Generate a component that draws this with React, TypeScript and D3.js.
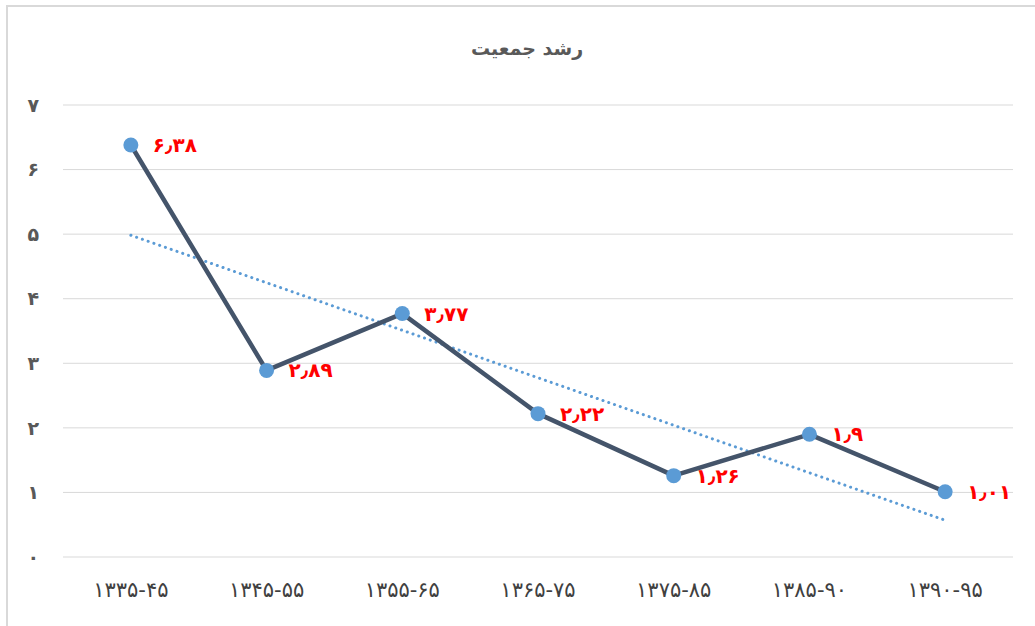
import React from 'react'
import * as d3 from 'd3'

const periods = ['۱۳۳۵-۴۵', '۱۳۴۵-۵۵', '۱۳۵۵-۶۵', '۱۳۶۵-۷۵', '۱۳۷۵-۸۵', '۱۳۸۵-۹۰', '۱۳۹۰-۹۵']
const growth = [6.38, 2.89, 3.77, 2.22, 1.26, 1.9, 1.01]
const yTicks = [0, 1, 2, 3, 4, 5, 6, 7]
const title = 'رشد جمعیت'

const W = 1035
const H = 626
const margin = { top: 105, right: 22, bottom: 69, left: 63 }
const font = '"DejaVu Sans", sans-serif'

const faDigits = '۰۱۲۳۴۵۶۷۸۹'
const toFa = (s: string) => s.replace(/[0-9]/g, d => faDigits[+d]).replace('.', '٫')

// linear trend line (least squares over the category index)
const trend = (() => {
    const n = growth.length
    const xs = growth.map((d, i) => i + 1)
    const mx = d3.mean(xs) as number
    const my = d3.mean(growth) as number
    const num = d3.sum(xs, (x, i) => (x - mx) * (growth[i] - my))
    const den = d3.sum(xs, x => (x - mx) ** 2)
    const slope = num / den
    return [0, n - 1].map(i => ({ i, v: my + slope * (i + 1 - mx) }))
})()

export default function App() {
    const x = d3.scaleBand<number>()
        .domain(growth.map((d, i) => i))
        .range([margin.left, W - margin.right])
    const y = d3.scaleLinear()
        .domain([0, 7])
        .range([H - margin.bottom, margin.top])
    const cx = (i: number) => (x(i) as number) + x.bandwidth() / 2

    const line = d3.line<number>()
        .x((d, i) => cx(i))
        .y(d => y(d))
    const trendLine = d3.line<{ i: number, v: number }>()
        .x(d => cx(d.i))
        .y(d => y(d.v))

    return (
        <div style={{ position: 'fixed', left: 0, top: 0 }}>
            <svg width={W} height={H} style={{ display: 'block', background: '#fff' }}>
                <rect x={7} y={6} width={W} height={H} fill="none" stroke="#d9d9d9" strokeWidth={2} />
                <text x={527} y={55} textAnchor="middle" fontFamily={font} fontSize={19}
                    fontWeight="bold" fill="#595959">{title}</text>

                {yTicks.map(t => (
                    <g key={t}>
                        <line x1={margin.left} x2={W - margin.right} y1={y(t)} y2={y(t)}
                            stroke="#d9d9d9" strokeWidth={1} />
                        <text x={39} y={y(t)} dy="0.35em" textAnchor="end" fontFamily={font}
                            fontSize={19} fontWeight="bold" fill="#595959">{toFa(String(t))}</text>
                    </g>
                ))}

                {periods.map((p, i) => (
                    <text key={p} x={cx(i)} y={597} textAnchor="middle" fontFamily={font}
                        fontSize={21} fill="#404040">{p}</text>
                ))}

                <path d={trendLine(trend) ?? ''} fill="none" stroke="#5b9bd5" strokeWidth={3}
                    strokeDasharray="0.1 6" strokeLinecap="round" />
                <path d={line(growth) ?? ''} fill="none" stroke="#44546a" strokeWidth={4.5}
                    strokeLinejoin="round" />

                {growth.map((v, i) => (
                    <circle key={i} cx={cx(i)} cy={y(v)} r={7.5} fill="#5b9bd5" />
                ))}
                {growth.map((v, i) => (
                    <text key={i} x={cx(i) + 22} y={y(v)} dy="0.35em" fontFamily={font}
                        fontSize={20} fontWeight="bold" fill="#ff0000">{toFa(String(v))}</text>
                ))}
            </svg>
        </div>
    )
}
